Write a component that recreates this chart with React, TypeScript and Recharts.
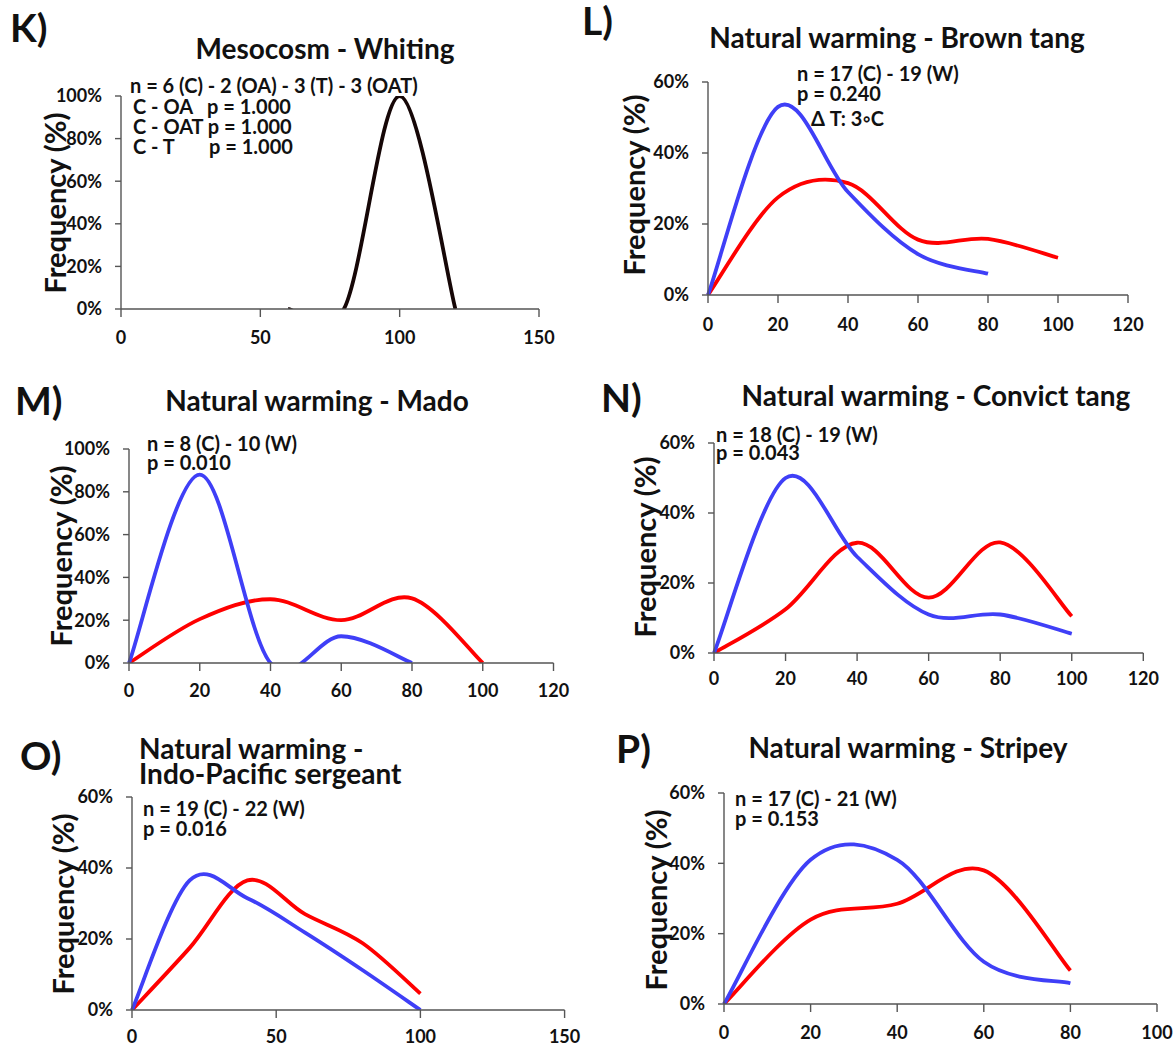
import React from "react";
import { LineChart, Line, XAxis, YAxis } from "recharts";

// ---------- DATA ----------
// K) Mesocosm - Whiting (all treatments overlap)
const kX = [60, 80, 100, 120];
const kAll = [0, 0, 100, 0];

// L) Natural warming - Brown tang
const lX = [0, 20, 40, 60, 80, 100];
const lControl = [0, 53, 29, 11.5, 6, null];
const lWarm = [0, 27.5, 31.5, 15.6, 15.8, 10.5];

// M) Natural warming - Mado
const mX = [0, 20, 40, 60, 80, 100];
const mControl = [0, 88, 0, 12.5, 0, null];
const mWarm = [0, 20.5, 29.8, 20, 30.2, 0];

// N) Natural warming - Convict tang
const nX = [0, 20, 40, 60, 80, 100];
const nControl = [0, 50, 27.5, 11, 11, 5.5];
const nWarm = [0, 12.5, 31.5, 15.8, 31.6, 10.5];

// O) Natural warming - Indo-Pacific sergeant
const oX = [0, 20, 40, 60, 80, 100];
const oControl = [0, 36.5, 31.5, 21.8, 11.2, 0];
const oWarm = [0, 17.5, 36.5, 27, 18.8, 4.6];

// P) Natural warming - Stripey
const pX = [0, 20, 40, 60, 80];
const pControl = [0, 41, 41, 12, 5.9];
const pWarm = [0, 24, 28.5, 38, 9.5];

const ticks150 = [0, 50, 100, 150];
const ticks120 = [0, 20, 40, 60, 80, 100, 120];
const ticks100 = [0, 20, 40, 60, 80, 100];
const yTicks100 = [0, 20, 40, 60, 80, 100];
const yTicks60 = [0, 20, 40, 60];

// ---------- Excel-like smooth curve (Catmull-Rom) ----------
function excelSmooth(context: any) {
  let pts: number[][] = [];
  return {
    areaStart() {},
    areaEnd() {},
    lineStart() {
      pts = [];
    },
    point(x: number, y: number) {
      pts.push([+x, +y]);
    },
    lineEnd() {
      const n = pts.length;
      if (!n) return;
      context.moveTo(pts[0][0], pts[0][1]);
      if (n === 1) {
        context.lineTo(pts[0][0], pts[0][1]);
        return;
      }
      for (let i = 0; i < n - 1; i++) {
        const p0 = pts[Math.max(i - 1, 0)];
        const p1 = pts[i];
        const p2 = pts[i + 1];
        const p3 = pts[Math.min(i + 2, n - 1)];
        const c1x = p1[0] + (p2[0] - p0[0]) / 6;
        const c1y = p1[1] + (p2[1] - p0[1]) / 6;
        const c2x = p2[0] - (p3[0] - p1[0]) / 6;
        const c2y = p2[1] - (p3[1] - p1[1]) / 6;
        context.bezierCurveTo(c1x, c1y, c2x, c2y, p2[0], p2[1]);
      }
    },
  };
}

const FONT = "Lato, 'Open Sans', sans-serif";
const BLUE = "#3f3ff7";
const RED = "#ff0000";
const AXIS = "#555555";
const TICK_FONT = 18;

type Series = { key: string; values: (number | null)[]; color: string };

function buildRows(xs: number[], series: Series[]) {
  return xs.map((x, i) => {
    const row: any = { x };
    series.forEach((s) => {
      const v = s.values[i];
      row[s.key] = v === null || v === undefined ? null : v;
    });
    return row;
  });
}

type PanelProps = {
  left: number;
  right: number;
  top: number;
  bottom: number;
  xMax: number;
  xTicks: number[];
  yMax: number;
  yTicks: number[];
  xs: number[];
  series: Series[];
  xLabelGap: number;
};

function Panel(p: PanelProps) {
  const yAxisW = 90;
  const mTop = 14;
  const mRight = 24;
  const xAxisH = 50;
  const w = p.right - p.left + yAxisW + mRight;
  const h = p.bottom - p.top + mTop + xAxisH;
  const data = buildRows(p.xs, p.series);
  const tickStyle = { fontFamily: FONT, fontSize: TICK_FONT, fontWeight: 700, fill: "#111" };
  return (
    <div style={{ position: "absolute", left: p.left - yAxisW, top: p.top - mTop }}>
      <LineChart width={w} height={h} data={data} margin={{ top: mTop, right: mRight, left: 0, bottom: 0 }}>
        <XAxis
          dataKey="x"
          type="number"
          domain={[0, p.xMax]}
          ticks={p.xTicks}
          interval={0}
          height={xAxisH}
          tickSize={8}
          tickMargin={p.xLabelGap - 8 - 7}
          axisLine={{ stroke: AXIS, strokeWidth: 1.4 }}
          tickLine={{ stroke: AXIS, strokeWidth: 1.4 }}
          tick={tickStyle}
        />
        <YAxis
          type="number"
          domain={[0, p.yMax]}
          ticks={p.yTicks}
          interval={0}
          width={yAxisW}
          allowDataOverflow
          tickSize={6}
          tickMargin={13}
          tickFormatter={(v: number) => `${v}%`}
          axisLine={{ stroke: AXIS, strokeWidth: 1.4 }}
          tickLine={{ stroke: AXIS, strokeWidth: 1.4 }}
          tick={tickStyle}
        />
        {p.series.map((s) => (
          <Line
            key={s.key}
            dataKey={s.key}
            type={excelSmooth as any}
            stroke={s.color}
            strokeWidth={3.8}
            dot={false}
            activeDot={false}
            connectNulls={false}
            isAnimationActive={false}
          />
        ))}
      </LineChart>
    </div>
  );
}

function Txt(props: {
  x: number;
  y: number;
  size: number;
  children: React.ReactNode;
  anchor?: "start" | "middle";
  lh?: number;
}) {
  const { x, y, size, anchor = "start" } = props;
  const lh = props.lh ?? size;
  return (
    <div
      style={{
        position: "absolute",
        left: x,
        top: y - lh / 2,
        height: lh,
        lineHeight: `${lh}px`,
        fontSize: size,
        fontFamily: FONT,
        fontWeight: 700,
        color: "#111",
        whiteSpace: "pre",
        transform: anchor === "middle" ? "translateX(-50%)" : undefined,
      }}
    >
      {props.children}
    </div>
  );
}

function YLabel({ x, y }: { x: number; y: number }) {
  return (
    <div
      style={{
        position: "absolute",
        left: x,
        top: y,
        transform: "translate(-50%, -50%) rotate(-90deg)",
        fontFamily: FONT,
        fontWeight: 700,
        fontSize: 29,
        lineHeight: "30px",
        whiteSpace: "nowrap",
        color: "#111",
      }}
    >
      Frequency (%)
    </div>
  );
}

export default function App() {
  const TITLE = 28;
  const ANN = 20;
  const LETTER = 39;
  return (
    <div
      style={{
        position: "absolute",
        left: 0,
        top: 0,
        width: 1174,
        height: 1049,
        background: "#fff",
        overflow: "hidden",
      }}
    >
      {/* K */}
      <Panel
        left={121}
        right={539}
        top={96}
        bottom={309}
        xMax={150}
        xTicks={ticks150}
        yMax={100}
        yTicks={yTicks100}
        xs={kX}
        series={[{ key: "all", values: kAll, color: "#160707" }]}
        xLabelGap={29}
      />
      <Txt x={10} y={27} size={LETTER} lh={34}>K)</Txt>
      <Txt x={325} y={48} size={TITLE} anchor="middle">Mesocosm - Whiting</Txt>
      <Txt x={130} y={85} size={ANN} lh={19}>n = 6 (C) - 2 (OA) - 3 (T) - 3 (OAT)</Txt>
      <Txt x={133} y={106} size={ANN} lh={19}>C - OA</Txt>
      <Txt x={207} y={106} size={ANN} lh={19}>p = 1.000</Txt>
      <Txt x={133} y={126} size={ANN} lh={19}>C - OAT p = 1.000</Txt>
      <Txt x={133} y={146} size={ANN} lh={19}>C - T</Txt>
      <Txt x={209} y={146} size={ANN} lh={19}>p = 1.000</Txt>
      <YLabel x={55} y={203} />

      {/* L */}
      <Panel
        left={708}
        right={1128}
        top={82}
        bottom={295}
        xMax={120}
        xTicks={ticks120}
        yMax={60}
        yTicks={yTicks60}
        xs={lX}
        series={[
          { key: "warm", values: lWarm, color: RED },
          { key: "control", values: lControl, color: BLUE },
        ]}
        xLabelGap={30}
      />
      <Txt x={582} y={20} size={LETTER} lh={34}>L)</Txt>
      <Txt x={897} y={37} size={TITLE} anchor="middle">Natural warming - Brown tang</Txt>
      <Txt x={797} y={73} size={ANN} lh={19}>n = 17 (C) - 19 (W)</Txt>
      <Txt x={797} y={93} size={ANN} lh={19}>p = 0.240</Txt>
      <Txt x={811} y={118} size={ANN} lh={19}>Δ T: 3◦C</Txt>
      <YLabel x={634} y={185} />

      {/* M */}
      <Panel
        left={128.5}
        right={553}
        top={449}
        bottom={663}
        xMax={120}
        xTicks={ticks120}
        yMax={100}
        yTicks={yTicks100}
        xs={mX}
        series={[
          { key: "warm", values: mWarm, color: RED },
          { key: "control", values: mControl, color: BLUE },
        ]}
        xLabelGap={28}
      />
      <Txt x={15} y={400} size={LETTER} lh={34}>M)</Txt>
      <Txt x={317} y={400} size={TITLE} anchor="middle">Natural warming - Mado</Txt>
      <Txt x={147} y={443} size={ANN} lh={18}>n = 8 (C) - 10 (W)</Txt>
      <Txt x={147} y={462} size={ANN} lh={18}>p = 0.010</Txt>
      <YLabel x={61} y={556} />

      {/* N */}
      <Panel
        left={713.7}
        right={1143}
        top={443}
        bottom={653}
        xMax={120}
        xTicks={ticks120}
        yMax={60}
        yTicks={yTicks60}
        xs={nX}
        series={[
          { key: "warm", values: nWarm, color: RED },
          { key: "control", values: nControl, color: BLUE },
        ]}
        xLabelGap={26}
      />
      <Txt x={601} y={397} size={LETTER} lh={34}>N)</Txt>
      <Txt x={936} y={395} size={TITLE} anchor="middle">Natural warming - Convict tang</Txt>
      <Txt x={716} y={434} size={ANN} lh={17}>n = 18 (C) - 19 (W)</Txt>
      <Txt x={716} y={452} size={ANN} lh={17}>p = 0.043</Txt>
      <YLabel x={645} y={547} />

      {/* O */}
      <Panel
        left={132.4}
        right={565}
        top={797}
        bottom={1010}
        xMax={150}
        xTicks={ticks150}
        yMax={60}
        yTicks={yTicks60}
        xs={oX}
        series={[
          { key: "warm", values: oWarm, color: RED },
          { key: "control", values: oControl, color: BLUE },
        ]}
        xLabelGap={27}
      />
      <Txt x={20} y={755} size={LETTER} lh={34}>O)</Txt>
      <div
        style={{
          position: "absolute",
          left: 139,
          top: 748 - 12.5,
          fontSize: TITLE,
          lineHeight: "25px",
          fontFamily: FONT,
          fontWeight: 700,
          color: "#111",
          whiteSpace: "pre",
        }}
      >
        {"Natural warming -\nIndo-Pacific sergeant"}
      </div>
      <Txt x={143} y={808} size={ANN} lh={19}>n = 19 (C) - 22 (W)</Txt>
      <Txt x={143} y={828} size={ANN} lh={19}>p = 0.016</Txt>
      <YLabel x={63} y={904} />

      {/* P */}
      <Panel
        left={724}
        right={1157}
        top={793}
        bottom={1004}
        xMax={100}
        xTicks={ticks100}
        yMax={60}
        yTicks={yTicks60}
        xs={pX}
        series={[
          { key: "warm", values: pWarm, color: RED },
          { key: "control", values: pControl, color: BLUE },
        ]}
        xLabelGap={29}
      />
      <Txt x={616} y={748} size={LETTER} lh={34}>P)</Txt>
      <Txt x={908} y={747} size={TITLE} anchor="middle">Natural warming - Stripey</Txt>
      <Txt x={735} y={798} size={ANN} lh={19}>n = 17 (C) - 21 (W)</Txt>
      <Txt x={735} y={818} size={ANN} lh={19}>p = 0.153</Txt>
      <YLabel x={656} y={900} />
    </div>
  );
}
